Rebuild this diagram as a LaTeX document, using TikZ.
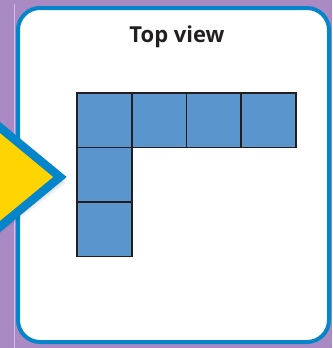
\documentclass[tikz,border=0pt]{standalone}
\usepackage{fontspec}
\setmainfont{Open Sans}
\definecolor{bgpurple}{HTML}{A98AC2}
\definecolor{panelblue}{HTML}{0585CA}
\definecolor{cubeblue}{HTML}{5B95CE}
\definecolor{inkgray}{HTML}{231F20}
\definecolor{arrowyellow}{HTML}{FFD400}
\tikzset{
  cube/.style={fill=cubeblue, draw=inkgray, line width=1.6pt},
  pointer/.style={fill=arrowyellow, draw=panelblue, line width=8.5pt, miter limit=4}
}
\begin{document}
\begin{tikzpicture}[x=1pt,y=-1pt]
\useasboundingbox (0,0) rectangle (332,348);

% Background
\fill[bgpurple] (0,0) rectangle (332,348);
\draw[white!45!bgpurple, line width=1pt] (14.5,4) -- (14.5,348);

% Panel
\draw[panelblue, line width=4pt, fill=white, rounded corners=22pt]
(18,8) rectangle (329,342);

% Title
\node[font=\bfseries\fontsize{22}{26}\selectfont, text=inkgray, anchor=base]
(title) at (177,42) {Top view};

% Top row
\foreach \i in {0,...,3}
  \draw[cube] (77+\i*54.75,93) rectangle ++(54.75,54.5);

% Left column
\foreach \j in {1,2}
  \draw[cube] (77,93+\j*54.5) rectangle ++(54.75,54.5);

% Shadow of the pointer
\foreach \d in {2,4,6}
  \fill[black, opacity=0.06]
  (-20,111+\d) -- (63+\d/2,177+\d) -- (-20,243+\d) -- cycle;

% Pointer
\draw[pointer]
(-20,111)
-- (60,177)
-- (-20,243)
-- cycle;

\end{tikzpicture}
\end{document}
